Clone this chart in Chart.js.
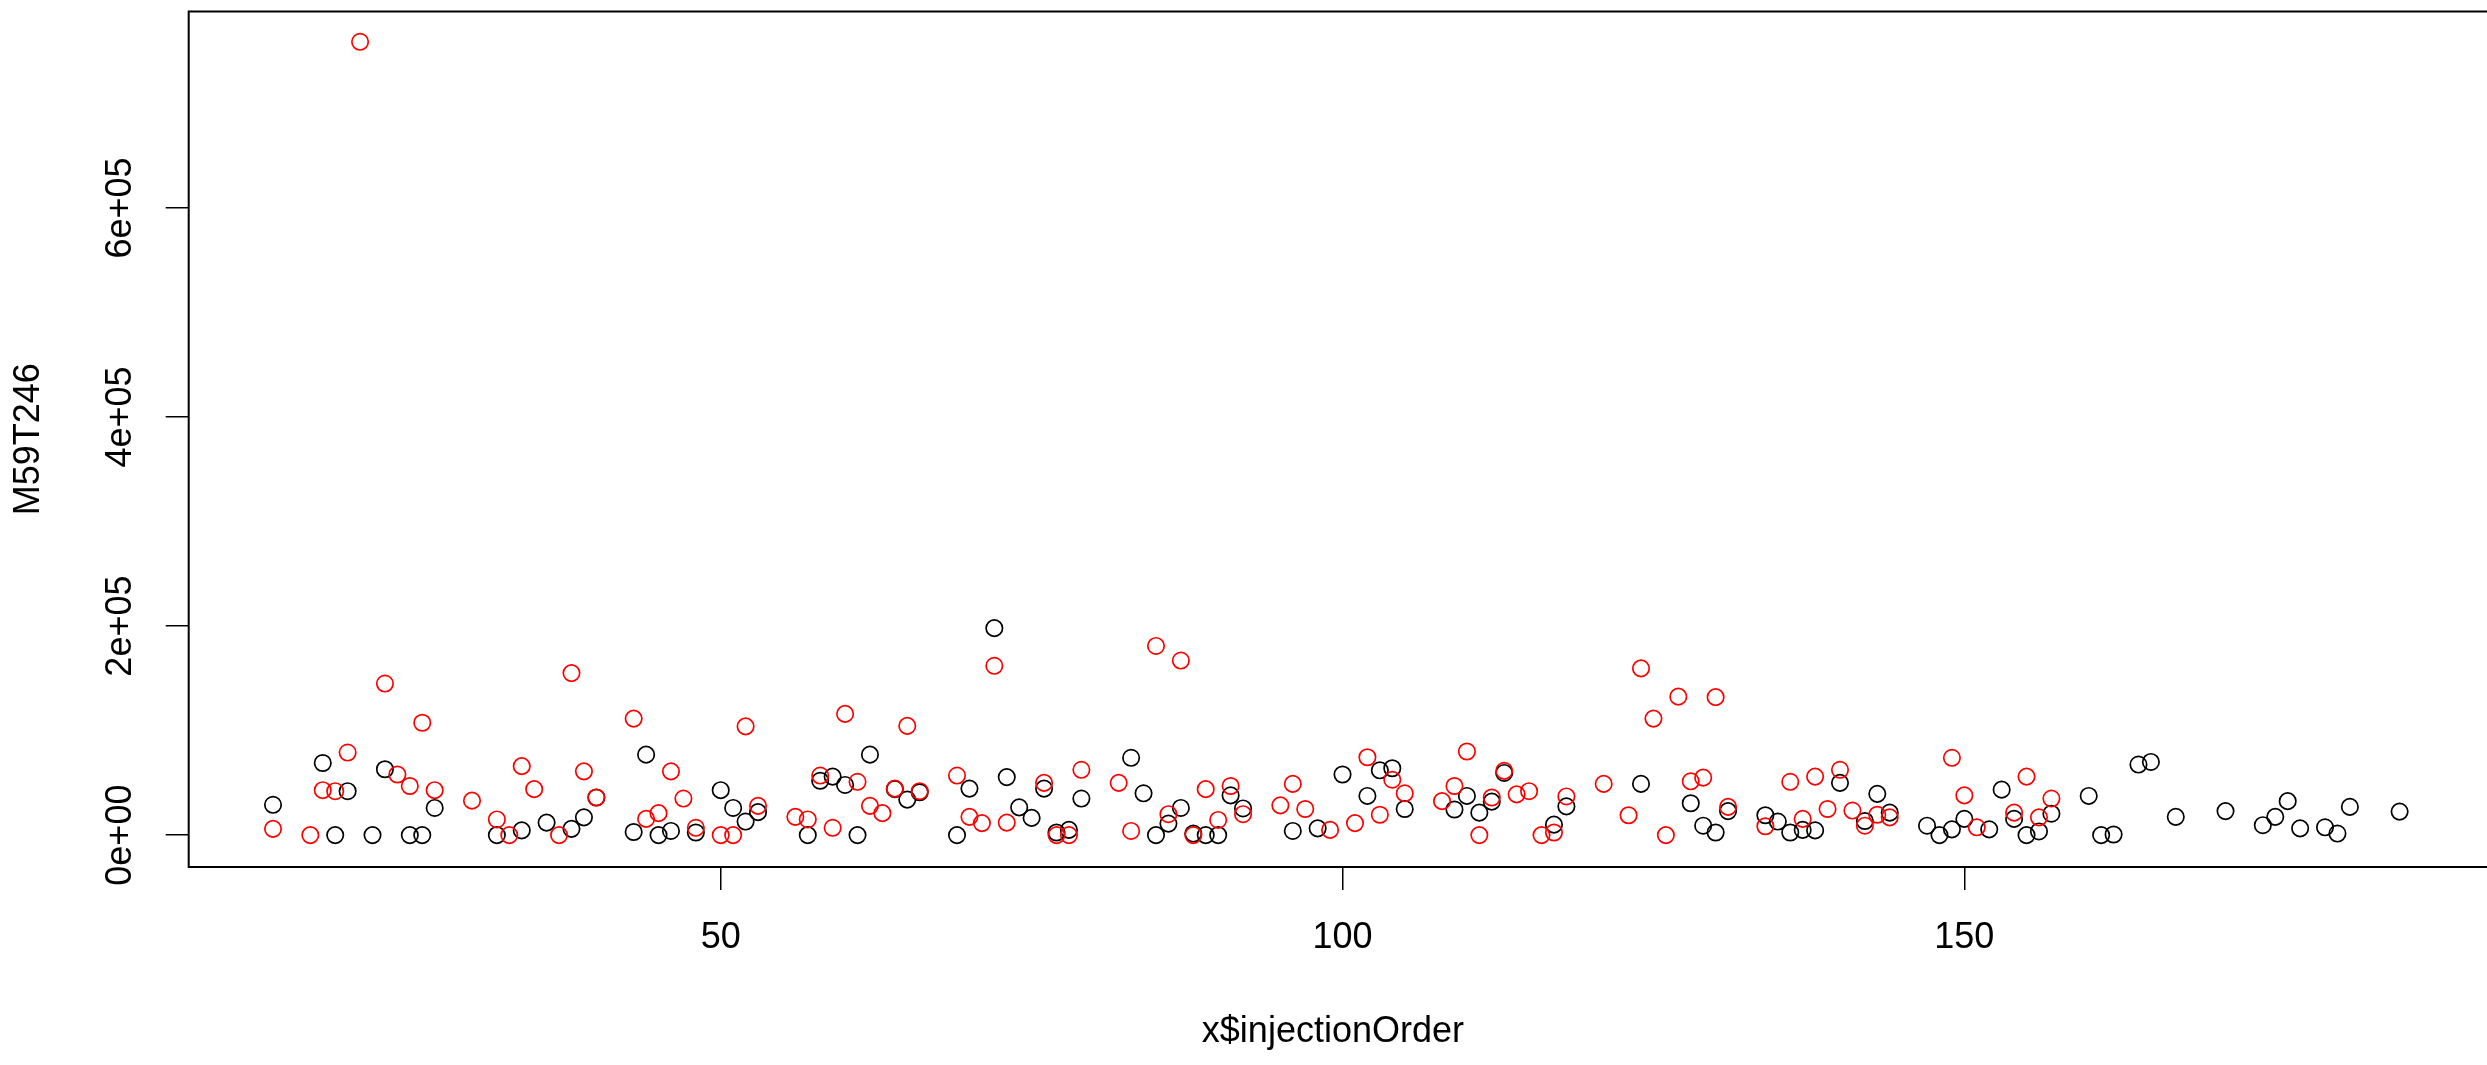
<!DOCTYPE html>
<html>
<head>
<meta charset="utf-8">
<script src="https://cdn.jsdelivr.net/npm/chart.js@4.4.0/dist/chart.umd.min.js"></script>
<style>
  html, body { margin: 0; padding: 0; background: #fff; }
  canvas { display: block; }
</style>
</head>
<body>
<canvas id="plot" width="2487" height="1065"></canvas>
<script>
// injection order / intensity
const blackX = [14, 18, 19, 20, 22, 23, 25, 26, 27, 32, 34, 36, 38, 39, 40, 43, 44, 45, 46, 48,
  50, 51, 52, 53, 57, 58, 59, 60, 61, 62, 64, 65, 66, 69, 70, 72, 73, 74, 75, 76,
  77, 78, 79, 83, 84, 85, 86, 87, 88, 89, 90, 91, 92, 96, 98, 100, 102, 103, 104, 105,
  109, 110, 111, 112, 113, 117, 118, 124, 128, 129, 130, 131, 134, 135, 136, 137, 138, 140, 142, 143,
  144, 147, 148, 149, 150, 152, 153, 154, 155, 156, 157, 160, 161, 162, 164, 165, 167, 171, 174, 175,
  176, 177, 179, 180, 181, 185];
const blackY = [29000, 69000, 0, 42000, 0, 63000, 0, 0, 26000, 0, 4500, 12000, 6000, 17000, 36000, 3000, 77000, 0, 4000, 2500,
  43000, 26000, 13000, 22000, 0, 52000, 56000, 48000, 0, 77000, 44000, 34000, 41000, 0, 44500, 198000, 55500, 26500, 16500, 44500,
  2500, 5000, 35000, 74000, 40000, 0, 11000, 26000, 1500, 0, 0, 38000, 25500, 4000, 6500, 58000, 37500, 62000, 64000, 25000,
  24500, 37500, 21500, 32000, 59500, 10000, 27500, 49000, 30500, 9000, 2500, 23000, 19000, 13000, 2500, 5000, 4500, 50000, 13500, 39500,
  21500, 9000, 0, 5500, 15500, 5500, 43500, 15500, 0, 3500, 20500, 37500, 0, 600, 67500, 70000, 17500, 23000, 9500, 17500,
  32500, 6500, 7500, 1500, 27000, 22500];

const redX = [14, 17, 18, 19, 20, 21, 23, 24, 25, 26, 27, 30, 32, 33, 34, 35, 37, 38, 39, 40,
  43, 44, 45, 46, 47, 48, 50, 51, 52, 53, 56, 57, 58, 59, 60, 61, 62, 63, 64, 65,
  66, 69, 70, 71, 72, 73, 76, 77, 78, 79, 82, 83, 85, 86, 87, 88, 89, 90, 91, 92,
  95, 96, 97, 99, 101, 102, 103, 104, 105, 108, 109, 110, 111, 112, 113, 114, 115, 116, 117, 118,
  121, 123, 124, 125, 126, 127, 128, 129, 130, 131, 134, 136, 137, 138, 139, 140, 141, 142, 143, 144,
  149, 150, 151, 154, 155, 156, 157];
const redY = [6000, 0, 43000, 42000, 79000, 759000, 145000, 58000, 47000, 107500, 43000, 33000, 15000, 0, 66000, 44000, 0, 155000, 61000, 36000,
  111500, 15500, 21000, 61000, 35000, 7000, 0, 0, 104000, 28000, 17500, 15000, 57000, 7000, 116000, 51000, 28000, 21000, 44500, 104500,
  42000, 57000, 17500, 11500, 162000, 12000, 50000, 0, 0, 62500, 50000, 4000, 181000, 20000, 167000, 0, 44000, 14500, 47000, 20000,
  28500, 49000, 25000, 5000, 11500, 74500, 19500, 53000, 40000, 32500, 47000, 80000, 0, 36000, 61500, 39000, 42000, 0, 2500, 37000,
  49000, 19000, 159500, 111500, 0, 132500, 51500, 55000, 132000, 27000, 8500, 51000, 15500, 56000, 25000, 62500, 23500, 9000, 19500, 17000,
  74000, 38000, 7500, 21500, 56000, 17000, 35000];

const xTicks = [50, 100, 150];
const yTicks = [0, 200000, 400000, 600000];
const yTickLabels = ['0e+00', '2e+05', '4e+05', '6e+05'];

const FONT = "'Liberation Sans', Arial, Helvetica, sans-serif";

function pts(xs, ys) {
  return xs.map((x, i) => ({ x: x, y: ys[i] }));
}

// box round the plot and the rotated y tick labels, R style
const rFrame = {
  id: 'rFrame',
  afterDraw(chart) {
    const ctx = chart.ctx;
    const a = chart.chartArea;
    const y = chart.scales.y;
    ctx.save();
    ctx.strokeStyle = '#000';
    ctx.lineWidth = 2;
    ctx.strokeRect(a.left, a.top, 2495 - a.left, a.bottom - a.top);
    ctx.fillStyle = '#000';
    ctx.font = '36px ' + FONT;
    ctx.textAlign = 'center';
    ctx.textBaseline = 'middle';
    yTicks.forEach((v, i) => {
      ctx.save();
      ctx.translate(121, y.getPixelForValue(v));
      ctx.rotate(-Math.PI / 2);
      ctx.fillText(yTickLabels[i], 0, 0);
      ctx.restore();
    });
    ctx.restore();
  }
};

new Chart(document.getElementById('plot'), {
  type: 'scatter',
  data: {
    datasets: [
      {
        label: 'red',
        data: pts(redX, redY),
        borderColor: '#ff0000',
        backgroundColor: 'rgba(0,0,0,0)',
        pointRadius: 8.2,
        pointBorderWidth: 1.7,
        pointHoverRadius: 8.2
      },
      {
        label: 'black',
        data: pts(blackX, blackY),
        borderColor: '#000000',
        backgroundColor: 'rgba(0,0,0,0)',
        pointRadius: 8.2,
        pointBorderWidth: 1.7,
        pointHoverRadius: 8.2
      }
    ]
  },
  options: {
    responsive: false,
    animation: false,
    events: [],
    layout: { padding: { top: 11.5, left: 0, right: 0, bottom: 0 } },
    plugins: {
      legend: { display: false },
      tooltip: { enabled: false }
    },
    scales: {
      x: {
        type: 'linear',
        min: 7.22,
        max: 191.23,
        afterBuildTicks: (s) => { s.ticks = xTicks.map(v => ({ value: v })); },
        afterFit: (s) => { s.height = 198; },
        grid: { drawOnChartArea: false, drawTicks: true, tickLength: 23, color: '#000', lineWidth: 1.5 },
        border: { display: false },
        ticks: { color: '#000', font: { size: 36, family: FONT }, padding: 26, maxRotation: 0 },
        title: {
          display: true,
          text: 'x$injectionOrder',
          color: '#000',
          font: { size: 36, family: FONT },
          padding: { top: 0, bottom: 11 }
        }
      },
      y: {
        type: 'linear',
        min: -30500,
        max: 788000,
        afterBuildTicks: (s) => { s.ticks = yTicks.map(v => ({ value: v })); },
        afterFit: (s) => { s.width = 188.7; },
        grid: { drawOnChartArea: false, drawTicks: true, tickLength: 23, color: '#000', lineWidth: 1.5 },
        border: { display: false },
        ticks: { display: false },
        title: {
          display: true,
          text: 'M59T246',
          color: '#000',
          font: { size: 36, family: FONT },
          padding: { top: 7, bottom: 0 }
        }
      }
    }
  },
  plugins: [rFrame]
});
</script>
</body>
</html>
